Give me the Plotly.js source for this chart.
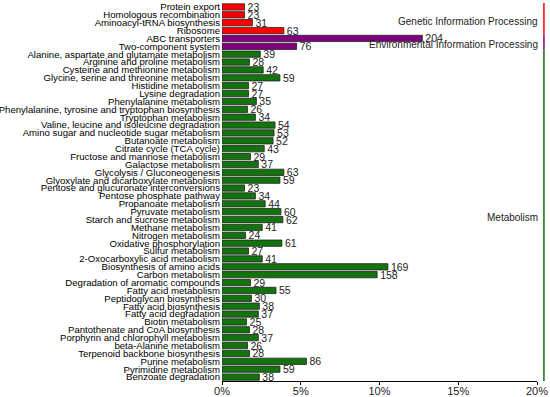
<!DOCTYPE html>
<html>
<head>
<meta charset="utf-8">
<script src="https://cdn.plot.ly/plotly-3.0.1.min.js"></script>
<style>html,body{margin:0;padding:0;background:#fff;} #chart{width:550px;height:397px;}</style>
</head>
<body>
<div id="chart"></div>
<script>
var pathways = [
  "Protein export","Homologous recombination","Aminoacyl-tRNA biosynthesis","Ribosome",
  "ABC transporters","Two-component system",
  "Alanine, aspartate and glutamate metabolism","Arginine and proline metabolism",
  "Cysteine and methionine metabolism","Glycine, serine and threonine metabolism",
  "Histidine metabolism","Lysine degradation","Phenylalanine metabolism",
  "Phenylalanine, tyrosine and tryptophan biosynthesis","Tryptophan metabolism",
  "Valine, leucine and isoleucine degradation","Amino sugar and nucleotide sugar metabolism",
  "Butanoate metabolism","Citrate cycle (TCA cycle)","Fructose and mannose metabolism",
  "Galactose metabolism","Glycolysis / Gluconeogenesis","Glyoxylate and dicarboxylate metabolism",
  "Pentose and glucuronate interconversions","Pentose phosphate pathway","Propanoate metabolism",
  "Pyruvate metabolism","Starch and sucrose metabolism","Methane metabolism","Nitrogen metabolism",
  "Oxidative phosphorylation","Sulfur metabolism","2-Oxocarboxylic acid metabolism",
  "Biosynthesis of amino acids","Carbon metabolism","Degradation of aromatic compounds",
  "Fatty acid metabolism","Peptidoglycan biosynthesis","Fatty acid biosynthesis",
  "Fatty acid degradation","Biotin metabolism","Pantothenate and CoA biosynthesis",
  "Porphyrin and chlorophyll metabolism","beta-Alanine metabolism",
  "Terpenoid backbone biosynthesis","Purine metabolism","Pyrimidine metabolism",
  "Benzoate degradation"
];
var geneCounts = [
  23,23,31,63,
  204,76,
  39,28,42,59,27,27,35,26,34,54,53,52,43,29,37,63,59,23,34,44,60,62,41,24,61,27,41,
  169,158,29,55,30,38,37,25,28,37,26,28,86,59,38
];
var classNames = ["Genetic Information Processing","Environmental Information Processing","Metabolism"];
var classSizes = [4, 2, 42];
var classColors = ["#ff0000", "#800080", "#13730f"];
var totalGenes = 1604;
var xTickVals = [0, 5, 10, 15, 20];
var xTickText = ["0%", "5%", "10%", "15%", "20%"];

var FONT = '"Liberation Sans", Arial, sans-serif';

var barColors = [];
classSizes.forEach(function(n, i){ for (var k = 0; k < n; k++) barColors.push(classColors[i]); });
var pct = geneCounts.map(function(c){ return c / totalGenes * 100; });
var idx = pathways.map(function(_, i){ return i; });

var trace = {
  type: 'bar',
  orientation: 'h',
  x: pct,
  y: idx,
  text: geneCounts.map(String),
  textposition: 'outside',
  constraintext: 'none',
  cliponaxis: false,
  textfont: {family: FONT, size: 10.5, color: '#222'},
  marker: {color: barColors, line: {color: '#222', width: 0.8}},
  hoverinfo: 'none'
};

var shapes = [], annotations = [];
var start = 0;
classSizes.forEach(function(n, i){
  shapes.push({type: 'line', xref: 'paper', yref: 'y', x0: 1.022, x1: 1.022,
    y0: start - 0.5, y1: start + n - 0.5, line: {color: classColors[i], width: 1.5}});
  annotations.push({xref: 'paper', yref: 'y', x: 1.0095, y: start + (n - 1) / 2 + 0.3,
    xanchor: 'right', yanchor: 'middle', text: classNames[i], showarrow: false,
    font: {family: FONT, size: 10, color: '#222'}});
  start += n;
});

var layout = {
  width: 550, height: 397,
  margin: {l: 222, r: 13, t: 3, b: 16},
  paper_bgcolor: '#fff', plot_bgcolor: '#fff',
  showlegend: false,
  bargap: 0.2,
  font: {family: FONT, size: 10, color: '#000'},
  xaxis: {range: [0, 20], tickvals: xTickVals, ticktext: xTickText, showgrid: false,
    zeroline: false, showline: true, linecolor: '#000', linewidth: 1,
    ticks: 'outside', ticklen: 3, tickcolor: '#000', ticklabelstandoff: -3,
    ticklabeloverflow: 'allow',
    tickfont: {family: FONT, size: 11, color: '#222'}, fixedrange: true},
  yaxis: {range: [47.5, -0.5], tickvals: idx, ticktext: pathways, showgrid: false,
    zeroline: false, showline: false, ticks: '', ticklabelstandoff: 1,
    ticklabeloverflow: 'allow',
    tickfont: {family: FONT, size: 9.6, color: '#000'}, fixedrange: true},
  shapes: shapes,
  annotations: annotations
};

Plotly.newPlot('chart', [trace], layout, {displayModeBar: false, staticPlot: true});
</script>
</body>
</html>
